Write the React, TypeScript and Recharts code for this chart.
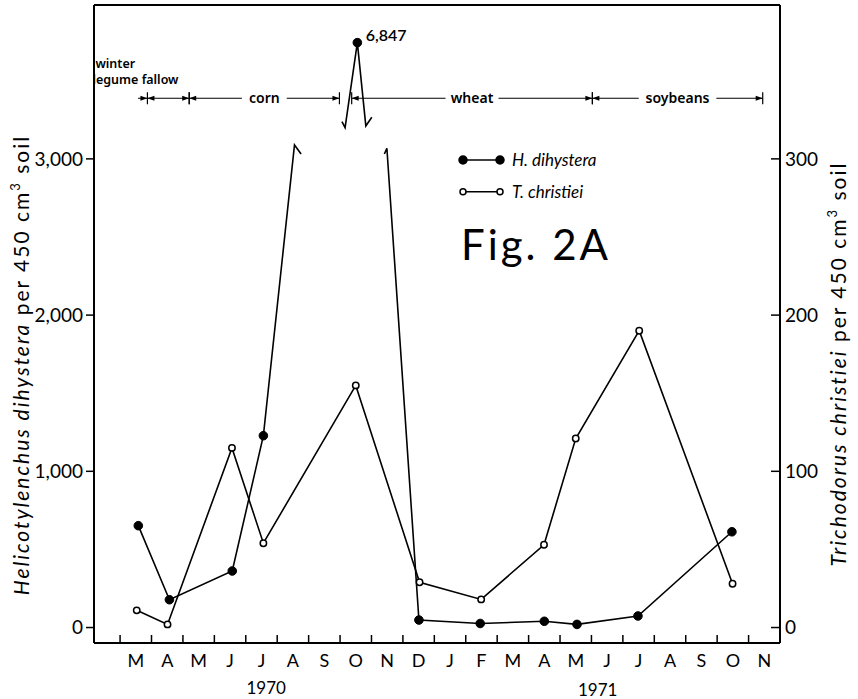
import React from 'react';
import { LineChart, Line, XAxis, YAxis, ReferenceLine, Legend, Label } from 'recharts';

// ---------- data ----------
// x positions are months counted from 1 March 1970 (0 = 1 Mar 1970)
const monthLabels = ['M', 'A', 'M', 'J', 'J', 'A', 'S', 'O', 'N', 'D', 'J', 'F', 'M', 'A', 'M', 'J', 'J', 'A', 'S', 'O', 'N'];
const yearLabels = ['1970', '1971'];
const yearPositions = [4.65, 15.2];

const hMonths = [0.58, 1.57, 3.57, 4.56, 7.55, 9.51, 11.46, 13.5, 14.54, 16.48, 19.47];
const hValues = [652, 178, 362, 1228, 6847, 48, 26, 40, 20, 74, 613];

const tMonths = [0.53, 1.51, 3.56, 4.56, 7.5, 9.53, 11.49, 13.49, 14.5, 16.52, 19.49];
const tValues = [11, 2, 115, 54, 155, 29, 18, 53, 121, 190, 28];

// broken-scale drawing of the off-scale Oct 1970 peak (left-axis units)
const peakDisplayValue = 3744;
const breakLeft = [{ m: 5.55, v: 3089 }, { m: 5.76, v: 3031 }];
const peakMarkBefore = [{ m: 7.06, v: 3238 }, { m: 7.16, v: 3200 }];
const peakMarkAfter = [{ m: 7.82, v: 3211 }, { m: 8.01, v: 3266 }];
const breakRight = [{ m: 8.41, v: 3031 }, { m: 8.49, v: 3068 }];

// crop periods drawn along the top
const cropLevel = 3388;
const cropNames = ['', 'fallow', 'corn', 'wheat', 'soybeans'];
const cropStarts = [0.57, 0.87, 2.2, 7.37, 15.03];
const cropEnds = [0.87, 2.2, 6.98, 15.03, 20.45];

const leftDomain = [-99, 3985];
const rightDomain = [-9.9, 398.5];
const xDomain = [-0.83, 21.0];
const leftTicks = [0, 1000, 2000, 3000];
const rightTicks = [0, 100, 200, 300];

// ---------- derived tables ----------
const peakIdx = hValues.findIndex((v) => v > leftDomain[1]);
const hPlot: any[] = [];
hMonths.forEach((m, i) => {
  if (i < peakIdx) hPlot.push({ m, h: hValues[i], real: true });
});
breakLeft.forEach((p) => hPlot.push({ m: p.m, h: p.v }));
hPlot.push({ m: (breakLeft[1].m + peakMarkBefore[0].m) / 2, h: null });
peakMarkBefore.forEach((p) => hPlot.push({ m: p.m, h: p.v }));
hPlot.push({ m: hMonths[peakIdx], h: peakDisplayValue, real: true, label: hValues[peakIdx] });
peakMarkAfter.forEach((p) => hPlot.push({ m: p.m, h: p.v }));
hPlot.push({ m: (peakMarkAfter[1].m + breakRight[0].m) / 2, h: null });
breakRight.forEach((p) => hPlot.push({ m: p.m, h: p.v }));
hMonths.forEach((m, i) => {
  if (i > peakIdx) hPlot.push({ m, h: hValues[i], real: true });
});

const tPlot = tMonths.map((m, i) => ({ m, t: tValues[i] }));

const monthTicks: number[] = [];
monthLabels.forEach((_, i) => {
  monthTicks.push(i);
  monthTicks.push(i + 0.5);
});
const xTicks = [...monthTicks, ...yearPositions].sort((a, b) => a - b);

const FONT = "Lato, 'DejaVu Sans', sans-serif";
const ANNO_FONT = "'Noto Sans', 'DejaVu Sans', sans-serif";

// ---------- renderers ----------
const MonthTick = (props: any) => {
  const { x, y, payload } = props;
  const v = payload.value;
  const yi = yearPositions.indexOf(v);
  if (yi >= 0) {
    return (
      <text x={x} y={y + 51 + yi * 2} textAnchor="middle" fontSize={17} fontFamily={FONT} fill="#000">
        {yearLabels[yi]}
      </text>
    );
  }
  if (Number.isInteger(v)) {
    return <line x1={x} y1={y} x2={x} y2={y - 8} stroke="#000" strokeWidth={1.5} />;
  }
  return (
    <text x={x} y={y + 24} textAnchor="middle" fontSize={18} fontFamily={FONT} fill="#000">
      {monthLabels[Math.floor(v)]}
    </text>
  );
};

const RightTick = (props: any) => {
  const { x, y, payload } = props;
  return (
    <g>
      <line x1={x - 9} y1={y} x2={x} y2={y} stroke="#000" strokeWidth={1.5} />
      <text x={x + 5} y={y} dy="0.36em" fontSize={19} fontFamily={FONT} fill="#000">
        {payload.value}
      </text>
    </g>
  );
};

const HDot = (props: any) => {
  const { cx, cy, payload, index } = props;
  if (!payload || !payload.real || cy == null) return <g key={`hd${index}`} />;
  return (
    <g key={`hd${index}`}>
      <circle cx={cx} cy={cy} r={4.3} fill="#000" stroke="#000" />
      {payload.label != null && (
        <text x={cx + 8.5} y={cy - 2} fontSize={16} fontWeight={600} fontFamily={FONT} fill="#000">
          {payload.label.toLocaleString('en-US')}
        </text>
      )}
    </g>
  );
};

const arrowRight = (x: number, y: number) => `${x},${y} ${x - 7},${y - 2.6} ${x - 7},${y + 2.6}`;
const arrowLeft = (x: number, y: number) => `${x},${y} ${x + 7},${y - 2.6} ${x + 7},${y + 2.6}`;

const spanShape = (idx: number) => (p: any) => {
  const { x1, x2, y1 } = p;
  const y = y1;
  const name = cropNames[idx];
  const lead = idx === 0;
  const textW = name && idx > 1 ? name.length * 8.2 + 12 : 0;
  const cx = (x1 + x2) / 2;
  return (
    <g>
      {textW > 0 ? (
        <>
          <line x1={x1} y1={y} x2={cx - textW / 2} y2={y} stroke="#000" strokeWidth={1} />
          <line x1={cx + textW / 2} y1={y} x2={x2} y2={y} stroke="#000" strokeWidth={1} />
          <text x={cx} y={y + 5} textAnchor="middle" fontSize={14} fontWeight={600} fontFamily={ANNO_FONT} fill="#000">
            {name}
          </text>
        </>
      ) : (
        <line x1={x1} y1={y} x2={x2} y2={y} stroke="#000" strokeWidth={1} />
      )}
      <polygon points={arrowRight(x2, y)} fill="#000" />
      {!lead && <polygon points={arrowLeft(x1, y)} fill="#000" />}
      {!lead && <line x1={x1} y1={y - 6} x2={x1} y2={y + 6} stroke="#000" strokeWidth={1.2} />}
      {!lead && <line x1={x2} y1={y - 6} x2={x2} y2={y + 6} stroke="#000" strokeWidth={1.2} />}
      {idx === 1 && (
        <g fontSize={12.5} fontWeight={600} fontFamily={ANNO_FONT} fill="#000">
          <text x={x1 - 52} y={y - 30}>winter</text>
          <text x={x1 - 55} y={y - 14}>legume fallow</text>
        </g>
      )}
    </g>
  );
};

const AxisTitle = ({ cx, cy, species }: { cx: number; cy: number; species: string }) => (
  <text
    transform={`rotate(-90, ${cx}, ${cy})`}
    x={cx}
    y={cy}
    textAnchor="middle"
    fontSize={21}
    letterSpacing={2}
    fontFamily={FONT}
    fill="#000"
  >
    <tspan fontStyle="italic">{species}</tspan>
    <tspan> per 450 cm</tspan>
    <tspan dy={-9} fontSize={13}>3</tspan>
    <tspan dy={9}> soil</tspan>
  </text>
);

const LeftAxisLabel = (props: any) => {
  const vb = props.viewBox || { x: 0, y: 5, width: 94, height: 638 };
  return <AxisTitle cx={vb.x + 29} cy={vb.y + vb.height / 2 + 41} species="Helicotylenchus dihystera" />;
};

const RightAxisLabel = (props: any) => {
  const vb = props.viewBox || { x: 780, y: 5, width: 78, height: 638 };
  return <AxisTitle cx={vb.x + 66} cy={vb.y + vb.height / 2 + 40} species="Trichodorus christiei" />;
};

const renderLegend = (props: any) => {
  const items = props.payload || [];
  return (
    <svg width={200} height={130} style={{ display: 'block', overflow: 'visible' }}>
      {items.map((it: any, i: number) => {
        const y = 20 + i * 31.7;
        const filled = it.dataKey === 'h';
        return (
          <g key={i}>
            <line x1={13} y1={y} x2={50} y2={y} stroke="#000" strokeWidth={1.6} />
            {[13, 50].map((x) => (
              <circle
                key={x}
                cx={x}
                cy={y}
                r={filled ? 4 : 3}
                fill={filled ? '#000' : '#fff'}
                stroke="#000"
                strokeWidth={1.5}
              />
            ))}
            <text x={62} y={y + 6} fontSize={17} fontStyle="italic" fontFamily={FONT} fill="#000">
              {it.value}
            </text>
          </g>
        );
      })}
      <text x={11} y={120} fontSize={42} letterSpacing={3} fontFamily={FONT} fill="#000">
        Fig. 2A
      </text>
    </svg>
  );
};

export default function App() {
  return (
    <div style={{ position: 'absolute', left: 0, top: 0, background: '#fff' }}>
      <LineChart width={858} height={699} margin={{ top: 5, right: 0, bottom: 0, left: 0 }}>
        <XAxis
          type="number"
          dataKey="m"
          domain={xDomain}
          allowDataOverflow
          ticks={xTicks}
          interval={0}
          tick={<MonthTick />}
          tickLine={false}
          tickSize={0}
          tickMargin={0}
          height={56}
          axisLine={{ stroke: '#000', strokeWidth: 2 }}
        />
        <YAxis
          yAxisId="left"
          type="number"
          domain={leftDomain}
          allowDataOverflow
          ticks={leftTicks}
          interval={0}
          width={94}
          tickSize={8}
          tickMargin={3}
          tickFormatter={(v: number) => v.toLocaleString('en-US')}
          tick={{ fontSize: 19, fill: '#000', fontFamily: FONT }}
          tickLine={{ stroke: '#000', strokeWidth: 1.5 }}
          axisLine={{ stroke: '#000', strokeWidth: 2 }}
        >
          <Label content={<LeftAxisLabel />} />
        </YAxis>
        <YAxis
          yAxisId="right"
          orientation="right"
          type="number"
          domain={rightDomain}
          allowDataOverflow
          ticks={rightTicks}
          interval={0}
          width={78}
          tickSize={0}
          tickMargin={0}
          tickLine={false}
          tick={<RightTick />}
          axisLine={{ stroke: '#000', strokeWidth: 2 }}
        >
          <Label content={<RightAxisLabel />} />
        </YAxis>
        <ReferenceLine yAxisId="left" y={leftDomain[1]} stroke="#000" strokeWidth={2} />
        {cropNames.map((_, i) => (
          <ReferenceLine
            key={`crop${i}`}
            yAxisId="left"
            ifOverflow="visible"
            segment={[
              { x: cropStarts[i], y: cropLevel },
              { x: cropEnds[i], y: cropLevel },
            ]}
            shape={spanShape(i)}
          />
        ))}
        <Line
          yAxisId="left"
          data={hPlot}
          dataKey="h"
          name="H. dihystera"
          type="linear"
          stroke="#000"
          strokeWidth={1.6}
          connectNulls={false}
          dot={HDot}
          activeDot={false}
          isAnimationActive={false}
        />
        <Line
          yAxisId="right"
          data={tPlot}
          dataKey="t"
          name="T. christiei"
          type="linear"
          stroke="#000"
          strokeWidth={1.6}
          dot={{ r: 3.2, fill: '#fff', stroke: '#000', strokeWidth: 1.5 }}
          activeDot={false}
          isAnimationActive={false}
        />
        <Legend
          layout="vertical"
          align="center"
          verticalAlign="middle"
          content={renderLegend}
          wrapperStyle={{ left: 450, top: 140, width: 200 }}
        />
      </LineChart>
    </div>
  );
}
